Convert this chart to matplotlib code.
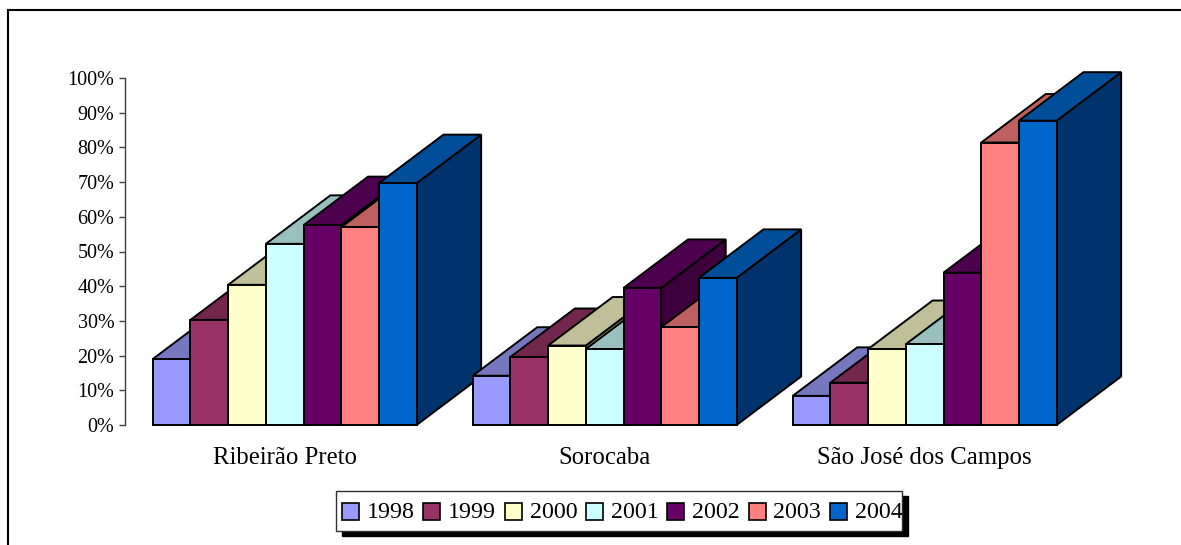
import matplotlib
matplotlib.use('Agg')
import matplotlib.pyplot as plt
from matplotlib.patches import Polygon, Rectangle

W, H = 1181, 545
fig = plt.figure(figsize=(W / 100, H / 100), dpi=100)
fig.patch.set_facecolor('white')
plt.rcParams['font.family'] = ['Liberation Serif', 'DejaVu Serif']

CITIES = ['Ribeirão Preto', 'Sorocaba', 'São José dos Campos']
YEARS = ['1998', '1999', '2000', '2001', '2002', '2003', '2004']

# share per year, one list per city
RIBEIRAO = [19.0, 30.3, 40.4, 52.2, 57.6, 57.0, 69.7]
SOROCABA = [14.2, 19.6, 22.9, 21.9, 39.5, 28.2, 42.4]
SJC = [8.4, 12.2, 21.9, 23.3, 43.9, 81.4, 87.7]

FRONT = ['#9999FF', '#993366', '#FFFFCC', '#CCFFFF', '#660066', '#FF8080', '#0066CC']
TOP = ['#7777BF', '#73274D', '#BFBF99', '#99BFBF', '#4D004D', '#BF6060', '#004D99']
SIDE = ['#5C5C99', '#5C1F3D', '#99997A', '#7A9999', '#3D003D', '#994D4D', '#00336B']

# plot area in pixels
X0, X1 = 124.7, 1084.7
Y0, Y1 = 425, 78
ax = fig.add_axes([X0 / W, 1 - Y0 / H, (X1 - X0) / W, (Y0 - Y1) / H])
ax.set_xlim(0, 3)
ax.set_ylim(0, 100)
ax.patch.set_visible(False)

BAR_W = 37.7 / 320
GAP = (1 - 7 * BAR_W) / 2
DX = 64.5 / 320
DY = 48.5 / 3.47


def draw_bar(x, val, i, z):
    w = BAR_W
    front = [(x, 0), (x + w, 0), (x + w, val), (x, val)]
    top = [(x, val), (x + w, val), (x + w + DX, val + DY), (x + DX, val + DY)]
    side = [(x + w, 0), (x + w + DX, DY), (x + w + DX, val + DY), (x + w, val)]
    for pts, col in ((side, SIDE[i]), (top, TOP[i]), (front, FRONT[i])):
        ax.add_patch(Polygon(pts, closed=True, facecolor=col, edgecolor='black',
                             linewidth=1.4, joinstyle='miter', clip_on=False, zorder=z))


z = 3
for g, vals in enumerate([RIBEIRAO, SOROCABA, SJC]):
    for i, v in enumerate(vals):
        draw_bar(g + GAP + i * BAR_W, v, i, z)
        z += 1

ax.set_yticks(range(0, 101, 10))
ax.set_yticklabels([f'{v}%' for v in range(0, 101, 10)], fontsize=14.5, color='black')
ax.tick_params(axis='y', length=4.3, width=1, color='#404040', pad=3.2)
ax.set_xticks([0.5, 1.5, 2.5])
ax.set_xticklabels(CITIES, fontsize=17.8, color='black')
ax.tick_params(axis='x', length=0, pad=16)
for s in ('top', 'right', 'bottom'):
    ax.spines[s].set_visible(False)
ax.spines['left'].set_color('#404040')
ax.spines['left'].set_linewidth(1)

# overlay in pixel coordinates for the outer frame and the legend
ov = fig.add_axes([0, 0, 1, 1], zorder=20)
ov.set_xlim(0, W)
ov.set_ylim(H, 0)
ov.axis('off')
ov.patch.set_visible(False)

ov.plot([7.5, 7.5, W], [H, 10, 10], color='black', lw=1.5, solid_joinstyle='miter')

LX0, LX1, LY0, LY1 = 336, 902, 491, 531
ov.add_patch(Rectangle((LX0 + 5.5, LY0 + 5), LX1 - LX0, LY1 - LY0, facecolor='black', edgecolor='black', lw=1))
ov.add_patch(Rectangle((LX0, LY0), LX1 - LX0, LY1 - LY0, facecolor='white', edgecolor='#303030', lw=1))
for i, year in enumerate(YEARS):
    x = 342 + i * 81.3
    ov.add_patch(Rectangle((x, 502.5), 17, 17, facecolor=FRONT[i], edgecolor='black', lw=1.2))
    ov.text(x + 25, 512, year, fontsize=17.3, va='center', ha='left', color='black')

fig.savefig('out.png', dpi=100, facecolor='white')
